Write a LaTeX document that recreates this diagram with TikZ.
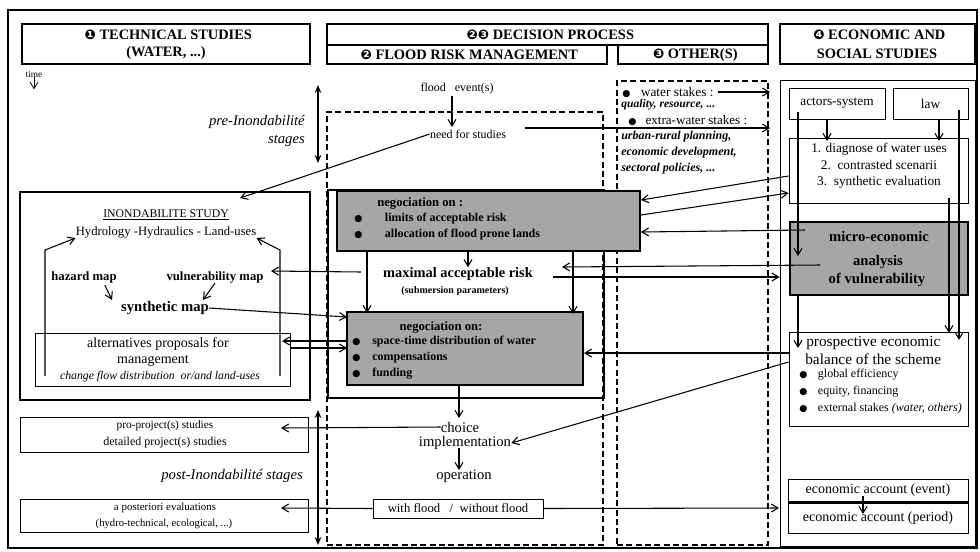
\documentclass[tikz,border=0pt]{standalone}
\usepackage{fontspec}
\setmainfont{Liberation Serif}
\newfontfamily\dv{DejaVu Sans}
\usetikzlibrary{arrows.meta,fit}
\newcommand\fsz[1]{\fontsize{#1}{#1}\selectfont}
\newcommand\bul{{\dv\fontsize{7}{7}\selectfont ●}}
\begin{document}
\begin{tikzpicture}[x=0.75pt,y=-0.75pt,
  bx/.style={draw, line width=0.7pt, inner sep=0pt, rectangle},
  hdr/.style={bx, line width=0.9pt},
  thk/.style={draw, line width=2pt, inner sep=0pt, rectangle},
  shd/.style={draw, line width=1.5pt, fill=black!35, inner sep=0pt, rectangle},
  dsh/.style={draw, line width=0.8pt, inner sep=0pt, rectangle, dash pattern=on 4.5pt off 2.5pt},
  tx/.style={inner sep=0pt},
  arr/.style={-{Straight Barb[length=5pt,width=6pt]}, line width=0.8pt},
  dbl/.style={{Stealth[length=6pt,width=5pt]}-{Stealth[length=6pt,width=5pt]}, line width=0.8pt},
  hfont/.style={tx, font=\bfseries\fsz{10.8}}
]
\useasboundingbox (0,0) rectangle (980,551);
\fill[white] (0,0) rectangle (980,551);
\node[bx, line width=0.9pt, fit={(8,10)(977,548)}] (frame) {};

% headers
\node[hdr, fit={(22,24)(310,64)}] (h1) {};
\node[hfont] (h1a) at (166,35) {{\dv\fsz{10} ❶}\ TECHNICAL STUDIES};
\node[hfont] (h1b) at (166,53) {(WATER, ...)};
\node[hdr, fit={(327,24)(768,45)}] (h23) {};
\node[hfont] (h23t) at (548,35) {{\dv\fsz{10} ❷❸}\ DECISION PROCESS};
\node[hdr, fit={(327,45)(607,64)}] (h2) {};
\node[hfont] (h2t) at (467,55) {{\dv\fsz{10} ❷}\ FLOOD RISK MANAGEMENT};
\node[hdr, fit={(618,45)(768,64)}] (h3) {};
\node[hfont] (h3t) at (693,55) {{\dv\fsz{10} ❸}\ OTHER(S)};
\node[hdr, fit={(780,24)(975,64)}] (h4) {};
\node[hfont] (h4a) at (877,35) {{\dv\fsz{10} ❹}\ ECONOMIC AND};
\node[hfont] (h4b) at (877,54) {SOCIAL STUDIES};

% time
\node[tx, font=\fsz{7}] (time) at (34,74) {time};
\draw[arr, line width=0.6pt] (time.south) -- ++(0,12);

% stage arrows and labels
\node[tx, anchor=east, align=right, font=\itshape\fontsize{11}{13.5}\selectfont] (pre) at (305,131) {pre-Inondabilité\\stages};
\coordinate (pa1) at (318,85); \coordinate (pa2) at (318,163);
\draw[dbl] (pa1) -- (pa2);
\coordinate (pb1) at (318,410); \coordinate (pb2) at (318,545);
\draw[dbl] (pb1) -- (pb2);

% dashed areas
\node[dsh, fit={(327,112)(603,545)}] (mdash) {};
\node[dsh, fit={(617,81)(768,545)}] (odash) {};

% Inondabilite study
\node[thk, fit={(20,192)(310,400)}] (inond) {};
\node[tx, font=\fsz{8.8}] (inst) at (166,215) {\underline{INONDABILITE STUDY}};
\node[tx, font=\fsz{9.5}] (hyd) at (166,232) {Hydrology -Hydraulics - Land-uses};
\node[tx, font=\bfseries\fsz{9.5}] (haz) at (84,277) {hazard map};
\node[tx, font=\bfseries\fsz{9.5}] (vul) at (215,277) {vulnerability map};
\node[tx, font=\bfseries\fsz{11}] (syn) at (165,308) {synthetic map};
\node[bx, fit={(35,333)(290,386)}] (alt) {};
\node[tx, font=\fsz{10.5}] (alt1) at (158,344) {alternatives proposals for};
\node[tx, font=\fsz{10.5}] (alt2) at (153,361) {management};
\node[tx, font=\itshape\fsz{8.8}] (alt3) at (160,377) {change flow distribution~~or/and land-uses};
\draw[arr] (45,376) -- (45,250) -- (hyd.south west);
\draw[arr] (280,376) -- (280,250) -- (hyd.south east);
\draw[arr] (haz.south east) ++(-12,2) -- (112,300);
\draw[arr] (vul.south) -- (203,300);

% left bottom boxes
\node[bx, fit={(20,417)(308,452)}] (pro) {};
\node[tx, font=\fsz{8.5}] (pro1) at (165,426) {pro-project(s) studies};
\node[tx, font=\fsz{9}] (pro2) at (165,443) {detailed project(s) studies};
\node[tx, anchor=east, font=\itshape\fsz{11}] (post) at (303,476) {post-Inondabilité stages};
\node[bx, fit={(20,499)(308,532)}] (apost) {};
\node[tx, font=\fsz{8.2}] (ap1) at (165,508) {a posteriori evaluations};
\node[tx, font=\fsz{8}] (ap2) at (164,524) {(hydro-technical, ecological, ...)};

% middle column
\node[tx, font=\fsz{9}] (flood) at (457,89) {flood~~~event(s)};
\node[tx, font=\fsz{9}] (need) at (468,134) {need for studies};
\draw[arr] (452,96) -- (452,127);
\draw[arr] (need.west) -- (240,198);
\draw[arr] (525,128) -- (770,128);

\node[thk, fit={(328,190)(604,398)}] (frm) {};
\node[shd, fit={(337,191)(640,251)}] (neg1) {};
\node[tx, anchor=west, font=\bfseries\fsz{9.5}] (n1a) at (377,203) {negociation on :};
\node[tx, anchor=west, font=\bfseries\fsz{9}] (n1b) at (354,219) {\makebox[23pt][l]{\bul}limits of acceptable risk};
\node[tx, anchor=west, font=\bfseries\fsz{9}] (n1c) at (354,235) {\makebox[23pt][l]{\bul}allocation of flood prone lands};

\node[tx, font=\bfseries\fsz{10.8}] (max) at (458,274) {maximal acceptable risk};
\node[tx, font=\bfseries\fsz{7.5}] (sub) at (455,291) {(submersion parameters)};

\node[shd, fit={(347,312)(583,385)}] (neg2) {};
\node[tx, font=\bfseries\fsz{9.5}] (n2a) at (441,327) {negociation on:};
\node[tx, anchor=west, font=\bfseries\fsz{9}] (n2b) at (352,342) {\makebox[15pt][l]{\bul}space-time distribution of water};
\node[tx, anchor=west, font=\bfseries\fsz{9}] (n2c) at (352,358) {\makebox[15pt][l]{\bul}compensations};
\node[tx, anchor=west, font=\bfseries\fsz{9}] (n2d) at (352,374) {\makebox[15pt][l]{\bul}funding};

\draw[arr] (468,251) -- (max.north -| 468,0);
\draw[arr] (367,251) -- (367,313);
\draw[arr] (573,251) -- (573,314);
\draw[arr] (max.west) ++(-22,-2) -- (271,271);
\draw[arr] (syn.east) -- (347,317);
\draw[arr] (347,341) -- (282,341);
\draw[arr] (290,348) -- (347,348);

\node[tx, font=\fsz{11}] (choice) at (460,427) {choice};
\node[tx, font=\fsz{11}] (impl) at (465,443) {implementation};
\node[tx, font=\fsz{11}] (oper) at (464,476) {operation};
\draw[arr] (459,385) -- (459,418);
\draw[arr] (459,448) -- (459,470);
\draw[arr] (choice.west) -- (281,428);

\node[bx, fit={(373,499)(543,518)}] (wf) {};
\node[tx, font=\fsz{9.5}] (wft) at (458,508) {with flood~~~/~~without flood};
\draw[arr] (wf.west) -- (281,508);
\draw[arr] (wf.east) -- (779,508);

% other(s)
\node[tx, anchor=west, font=\fsz{10}] (ws) at (622,92) {\makebox[14pt][l]{\bul}water stakes :};
\node[tx, anchor=west, font=\bfseries\itshape\fsz{8.7}] (wsq) at (621,105) {quality, resource, ...};
\node[tx, anchor=west, font=\fsz{9.8}] (ews) at (628,121) {\makebox[13pt][l]{\bul}extra-water stakes :};
\node[tx, anchor=north west, align=left, font=\bfseries\itshape\fontsize{9}{12}\selectfont] (ewsl) at (621,131) {urban-rural planning,\\economic development,\\sectoral policies, ...};
\draw[arr] (ws.east) ++(4,0) -- (770,92);

% economic column
\node[bx, fit={(780,80)(975,546)}] (ecol) {};
\node[bx, fit={(789,88)(885,119)}] (act) {};
\node[tx, font=\fsz{10}] (actt) at (act) {actors-system};
\node[bx, fit={(893,88)(968,119)}] (law) {};
\node[tx, font=\fsz{10}] (lawt) at (law) {law};
\node[bx, fit={(789,138)(968,203)}] (diag) {};
\node[tx, align=center, font=\fontsize{10}{12.4}\selectfont] (diagt) at (879,166) {1. diagnose of water uses\\2.~~contrasted scenarii\\3.~~synthetic evaluation};
\node[shd, line width=2pt, fit={(790,222)(968,295)}] (micro) {};
\node[tx, font=\bfseries\fsz{11}] (mi1) at (879,236) {micro-economic};
\node[tx, font=\bfseries\fsz{11}] (mi2) at (878,262) {analysis};
\node[tx, font=\bfseries\fsz{11}] (mi3) at (877,280) {of vulnerability};
\node[bx, fit={(789,332)(968,426)}] (prosp) {};
\node[tx, anchor=west, font=\fsz{11.5}] (pr1) at (806,343) {prospective economic};
\node[tx, anchor=west, font=\fsz{11.5}] (pr2) at (805,359) {balance of the scheme};
\node[tx, anchor=west, font=\fsz{9}] (pr3) at (799,375) {\makebox[14pt][l]{\bul}global efficiency};
\node[tx, anchor=west, font=\fsz{9}] (pr4) at (799,392) {\makebox[14pt][l]{\bul}equity, financing};
\node[tx, anchor=west, font=\fsz{9}] (pr5) at (799,409) {\makebox[14pt][l]{\bul}external stakes {\itshape (water, others)}};
\node[bx, fit={(788,479)(968,502)}] (acc1) {};
\node[bx, fit={(788,502)(968,533)}] (acc2) {};
\draw[line width=1.8pt] (acc1.south west) -- (acc1.south east);
\node[tx, font=\fsz{10.5}] (acc1t) at (878,490) {economic account (event)};
\node[tx, font=\fsz{10.5}] (acc2t) at (878,518) {economic account (period)};
\draw[arr] (863,496) -- (863,514);

\draw[arr] (act.south -| 827,0) -- (827,141);
\draw[arr] (law.south -| 939,0) -- (939,141);
\draw[arr] (798,112) -- (798,256);
\draw[arr] (micro.south -| 798,0) -- (798,348);
\draw[arr] (959,110) -- (959,340);
\draw[arr] (949,198) -- (949,333);

\draw[arr] (diag.west |- 0,176) -- (neg1.east |- 0,200);
\draw[arr] (neg1.east |- 0,215) -- (diag.west |- 0,193);
\draw[arr] (805,230) -- (neg1.east |- 0,232);
\draw[arr] (820,265) -- (562,267);
\draw[arr] (553,277) -- (ecol.west |- 0,277);
\draw[arr] (prosp.west |- 0,353) -- (neg2.east |- 0,353);
\draw[arr] (prosp.west |- 0,362) -- (impl.east);
\end{tikzpicture}
\end{document}
